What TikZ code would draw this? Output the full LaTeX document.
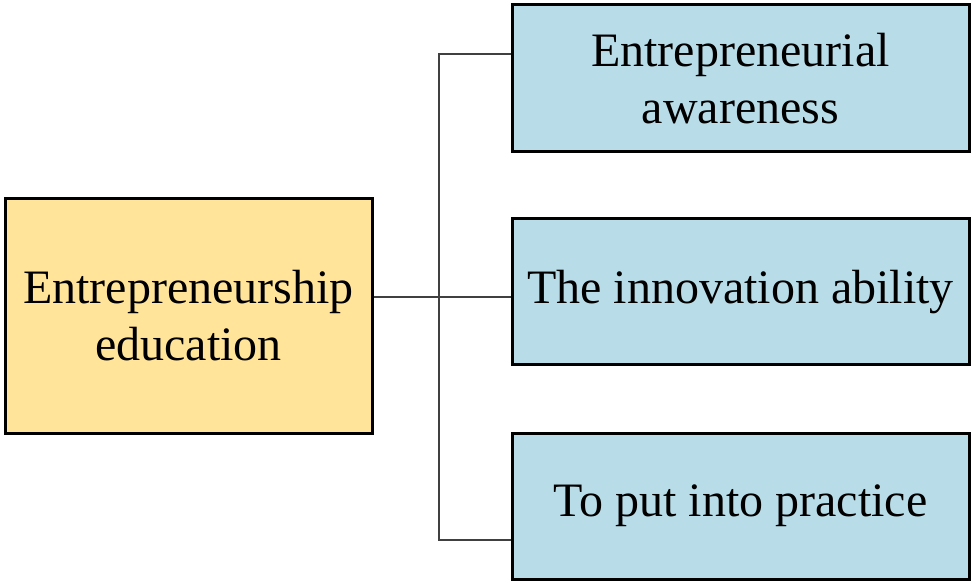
\documentclass[tikz,border=0pt]{standalone}
\usepackage{fontspec}
\setmainfont{Liberation Serif}
\usepackage{tikz}
\usetikzlibrary{positioning}
\definecolor{eduyellow}{HTML}{FFE499}
\definecolor{aimblue}{HTML}{B8DDE8}
\tikzstyle{eduBox} = [draw=black,line width=3pt,fill=eduyellow,align=center,inner sep=0pt,minimum width=367pt,minimum height=234pt,font=\fontsize{48}{57}\selectfont]
\tikzstyle{aimBox} = [draw=black,line width=3pt,fill=aimblue,align=center,inner sep=0pt,minimum width=457pt,minimum height=146pt,font=\fontsize{48}{57}\selectfont]
\tikzstyle{link} = [draw=black!75,line width=1.3pt]

\begin{document}
\begin{tikzpicture}[x=1pt,y=-1pt]
	\useasboundingbox (0,0) rectangle (975,585);
	\def \jx {439}
	% left box and the three aims
	\node (edu) at (188.5,316) [eduBox] {Entrepreneurship\\education};
	\node (aware) at (740.5,78.5) [aimBox,minimum height=147pt] {Entrepreneurial\\awareness};
	\node (innov) at (740.5,292) [aimBox] {The innovation ability};
	\node (pract) at (740.5,506) [aimBox] {To put into practice};
	% connectors
	\coordinate (top) at (\jx,54);
	\coordinate (mid) at (\jx,297);
	\coordinate (bot) at (\jx,540);
	\draw [link] (edu.east |- mid) -- (innov.west |- mid);
	\draw [link] (aware.west |- top) -- (top) -- (bot) -- (pract.west |- bot);
\end{tikzpicture}
\end{document}
